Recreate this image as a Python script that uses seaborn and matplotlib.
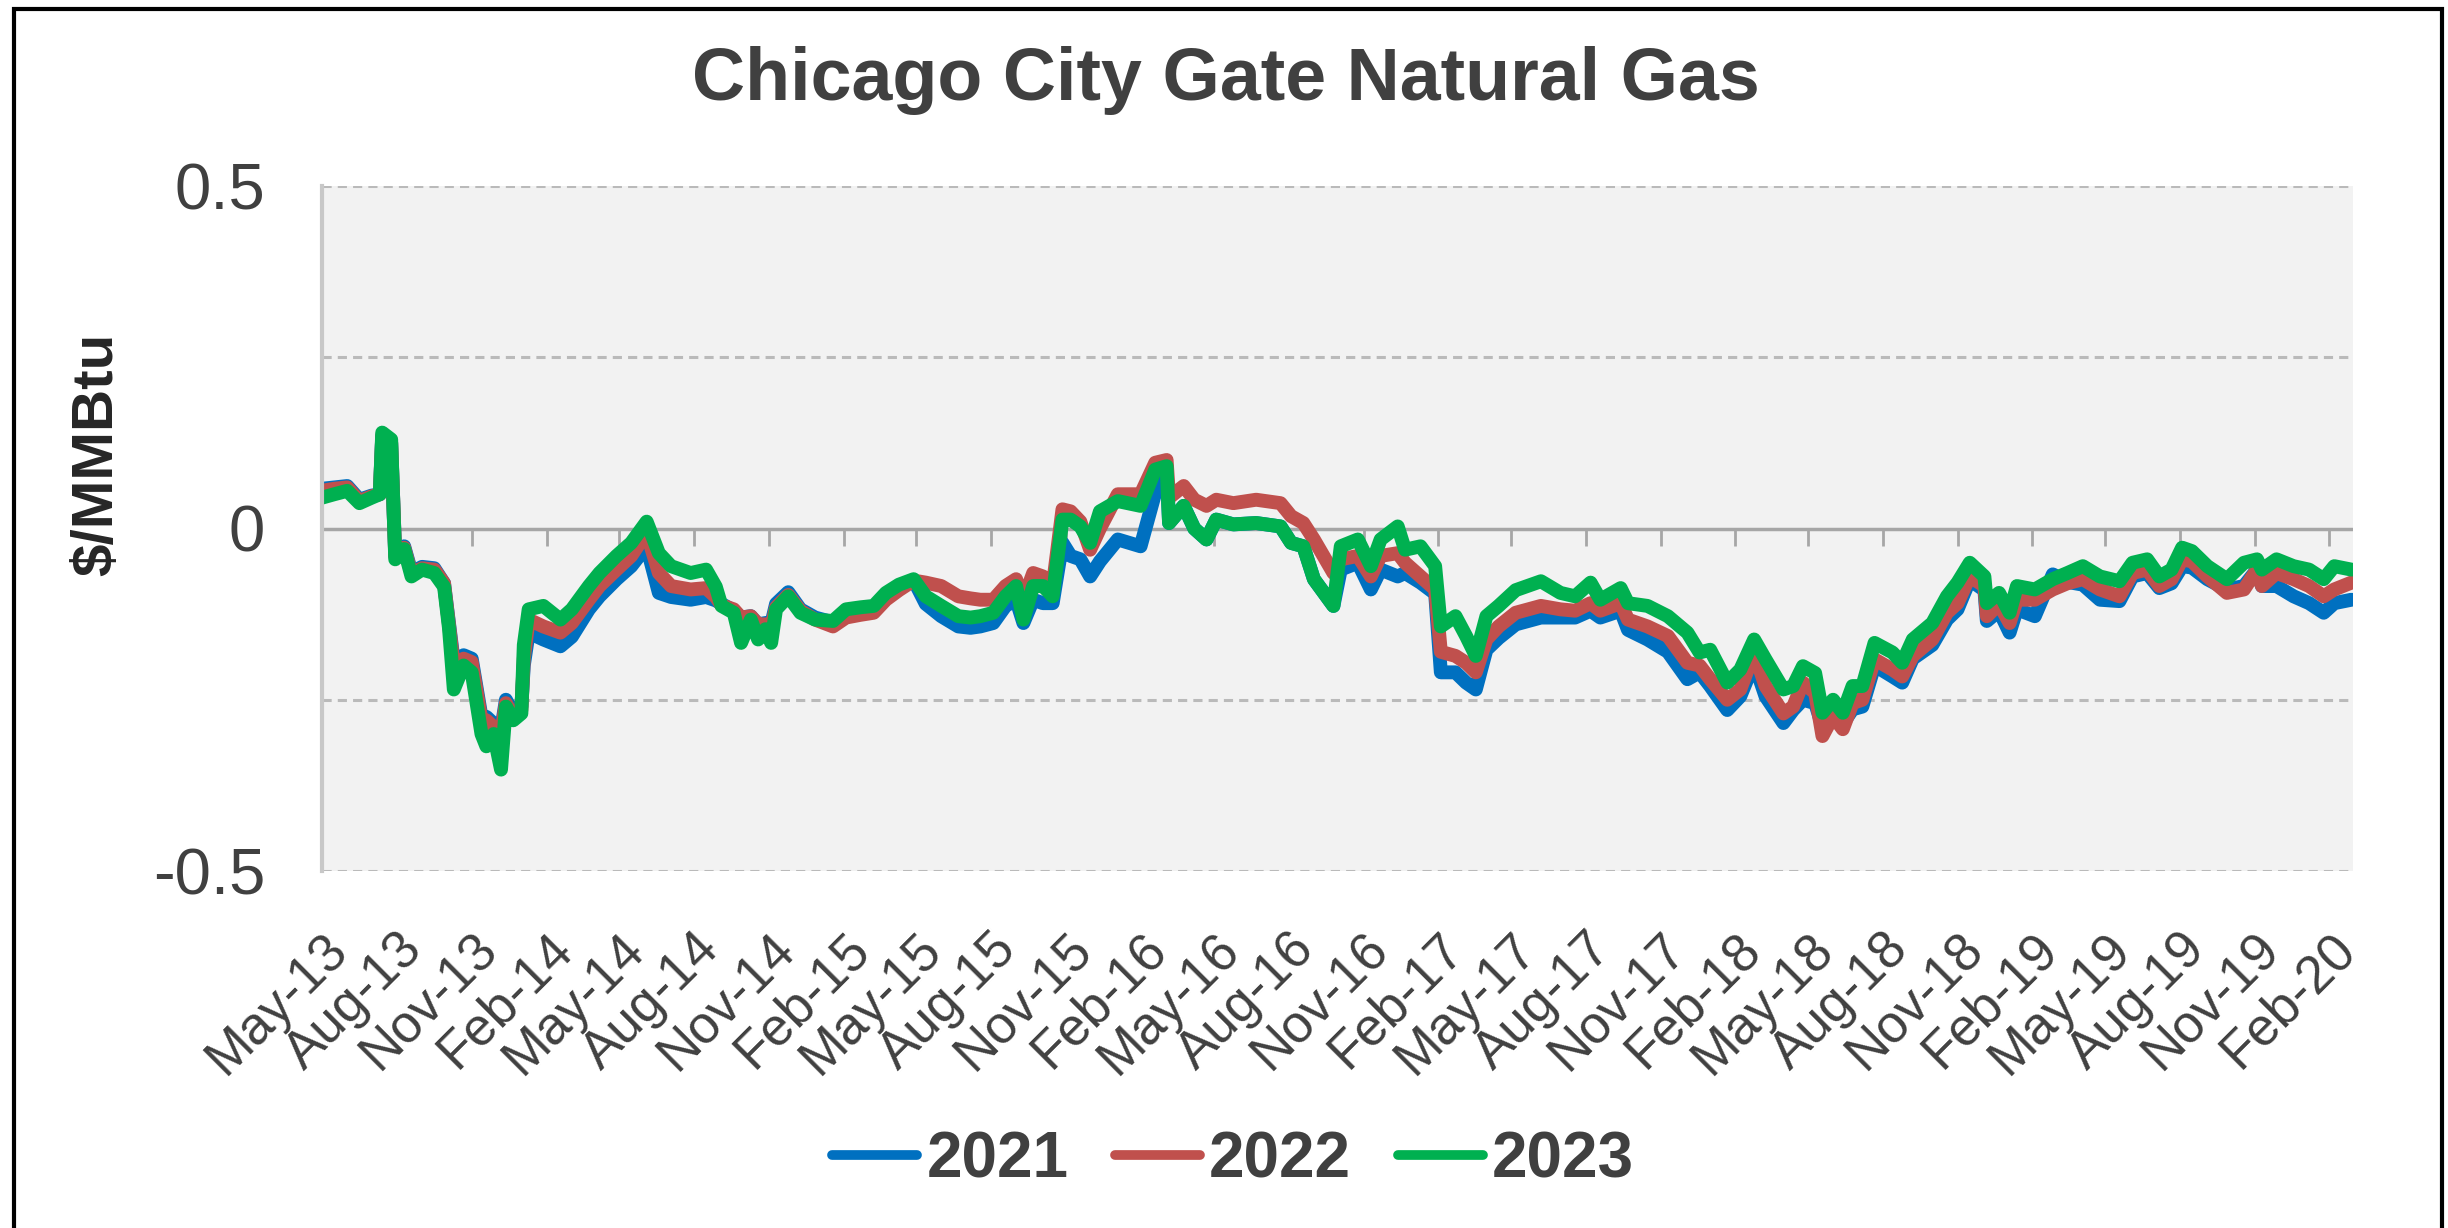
import matplotlib
matplotlib.use("Agg")
import pandas as pd
import matplotlib.pyplot as plt
import matplotlib.dates as mdates
import matplotlib.colors as mcolors
from matplotlib.patches import Rectangle
import seaborn as sns

# -----------------------------------------------------------
# Data (basis, $/MMBtu)
# -----------------------------------------------------------
dates = [
    "2013-05-01", "2013-05-16", "2013-06-01", "2013-06-16", "2013-07-01", "2013-07-11",
    "2013-07-14", "2013-07-25", "2013-07-30", "2013-08-10", "2013-08-19", "2013-09-01",
    "2013-09-16", "2013-09-28", "2013-10-04", "2013-10-10", "2013-10-22", "2013-11-01",
    "2013-11-13", "2013-11-19", "2013-11-28", "2013-12-07", "2013-12-13", "2013-12-22",
    "2014-01-01", "2014-01-04", "2014-01-10", "2014-01-28", "2014-02-18", "2014-03-04",
    "2014-03-25", "2014-04-07", "2014-04-28", "2014-05-16", "2014-06-04", "2014-06-19",
    "2014-07-04", "2014-07-28", "2014-08-16", "2014-08-28", "2014-09-04", "2014-09-19",
    "2014-09-28", "2014-10-10", "2014-10-19", "2014-10-28", "2014-11-04", "2014-11-10",
    "2014-11-25", "2014-12-10", "2014-12-28",
    "2015-01-19", "2015-02-04", "2015-02-22", "2015-03-10", "2015-03-25", "2015-04-10",
    "2015-04-28", "2015-05-13", "2015-06-01", "2015-06-22", "2015-07-07", "2015-07-19",
    "2015-08-04", "2015-08-19", "2015-09-01", "2015-09-10", "2015-09-22", "2015-10-04",
    "2015-10-16", "2015-10-28", "2015-11-07", "2015-11-19", "2015-12-01", "2015-12-13",
    "2016-01-04", "2016-02-01", "2016-02-19", "2016-03-04", "2016-03-07", "2016-03-25",
    "2016-04-07", "2016-04-22", "2016-05-04", "2016-05-25", "2016-06-22", "2016-07-22",
    "2016-08-04", "2016-08-19", "2016-09-01", "2016-09-25", "2016-10-04", "2016-10-25",
    "2016-11-10", "2016-11-22", "2016-12-13", "2016-12-22",
    "2017-01-10", "2017-01-28", "2017-02-04", "2017-02-22", "2017-03-07", "2017-03-19",
    "2017-04-01", "2017-04-16", "2017-05-07", "2017-06-07", "2017-07-01", "2017-07-19",
    "2017-08-07", "2017-08-19", "2017-09-13", "2017-09-22", "2017-10-16", "2017-11-10",
    "2017-12-04", "2017-12-19",
    "2018-01-01", "2018-01-22", "2018-02-07", "2018-02-24", "2018-03-10", "2018-04-01",
    "2018-04-13", "2018-04-25", "2018-05-10", "2018-05-19", "2018-06-01", "2018-06-13",
    "2018-06-25", "2018-07-07", "2018-07-22", "2018-08-13", "2018-08-25", "2018-09-07",
    "2018-10-01", "2018-10-19", "2018-11-01", "2018-11-16", "2018-12-04", "2018-12-07",
    "2018-12-22",
    "2019-01-04", "2019-01-13", "2019-02-04", "2019-02-26", "2019-03-16", "2019-04-04",
    "2019-04-25", "2019-05-19", "2019-06-04", "2019-06-22", "2019-07-07", "2019-07-22",
    "2019-08-04", "2019-08-16", "2019-09-04", "2019-09-28", "2019-10-19", "2019-11-04",
    "2019-11-10", "2019-11-28", "2019-12-19",
    "2020-01-07", "2020-01-25", "2020-02-07", "2020-02-28",
]

basis_2021 = [
    .058, .060, .062, .042, .048, .050, .135, .125, -.040, -.026, -.064, -.056,
    -.058, -.080, -.138, -.195, -.185, -.190, -.275, -.275, -.285, -.295, -.250, -.270,
    -.260, -.200, -.152, -.162, -.172, -.158, -.118, -.099, -.074, -.055, -.026, -.094,
    -.100, -.104, -.100, -.105, -.110, -.120, -.130, -.128, -.140, -.138, -.140, -.110,
    -.093, -.118, -.130,
    -.137, -.120, -.118, -.116, -.097, -.085, -.075, -.110, -.128, -.143, -.145, -.143,
    -.138, -.113, -.104, -.138, -.104, -.109, -.109, -.021, -.040, -.045, -.070, -.048,
    -.016, -.026, .052, .085, .008, .033, .000, -.016, .013, .006, .008, .003,
    -.021, -.026, -.074, -.113, -.060, -.050, -.089, -.060, -.070, -.065,
    -.079, -.095, -.210, -.210, -.225, -.235, -.177, -.160, -.140, -.130, -.130, -.130,
    -.120, -.130, -.120, -.148, -.162, -.180, -.220, -.210,
    -.230, -.265, -.245, -.196, -.245, -.284, -.265, -.250, -.255, -.289, -.280, -.285,
    -.264, -.260, -.200, -.216, -.225, -.190, -.170, -.133, -.118, -.075, -.090, -.135,
    -.120,
    -.152, -.118, -.128, -.067, -.078, -.082, -.104, -.106, -.070, -.065, -.087, -.080,
    -.055, -.057, -.074, -.089, -.084, -.060, -.084, -.084, -.099,
    -.109, -.123, -.109, -.104,
]

basis_2022 = [
    .055, .058, .060, .040, .047, .050, .135, .125, -.040, -.028, -.066, -.058,
    -.060, -.080, -.140, -.200, -.190, -.195, -.280, -.280, -.290, -.300, -.255, -.275,
    -.265, -.190, -.133, -.143, -.152, -.138, -.104, -.084, -.060, -.040, -.006, -.065,
    -.084, -.089, -.087, -.100, -.112, -.118, -.130, -.128, -.140, -.140, -.145, -.115,
    -.097, -.120, -.133,
    -.143, -.130, -.126, -.123, -.104, -.090, -.076, -.079, -.084, -.099, -.102, -.104,
    -.104, -.084, -.074, -.104, -.065, -.070, -.084, .028, .025, .010, -.031, .000,
    .050, .050, .096, .100, .045, .062, .042, .033, .042, .037, .042, .037,
    .018, .008, -.016, -.065, -.045, -.040, -.070, -.040, -.036, -.050,
    -.070, -.089, -.180, -.186, -.196, -.210, -.162, -.143, -.123, -.113, -.118, -.120,
    -.109, -.120, -.109, -.133, -.143, -.157, -.196, -.200,
    -.220, -.250, -.235, -.181, -.230, -.270, -.260, -.225, -.240, -.303, -.274, -.293,
    -.255, -.250, -.191, -.206, -.216, -.186, -.162, -.123, -.109, -.070, -.084, -.128,
    -.110,
    -.138, -.104, -.104, -.089, -.080, -.074, -.089, -.099, -.065, -.060, -.084, -.074,
    -.045, -.048, -.070, -.094, -.089, -.060, -.084, -.065, -.074,
    -.084, -.099, -.089, -.079,
]

basis_2023 = [
    .045, .050, .055, .037, .045, .050, .140, .130, -.045, -.030, -.070, -.060,
    -.065, -.085, -.145, -.235, -.200, -.210, -.300, -.318, -.300, -.352, -.260, -.280,
    -.270, -.170, -.118, -.113, -.133, -.118, -.084, -.065, -.040, -.021, .010, -.036,
    -.055, -.065, -.060, -.085, -.113, -.123, -.167, -.133, -.162, -.147, -.167, -.118,
    -.099, -.123, -.133,
    -.135, -.118, -.115, -.113, -.094, -.082, -.074, -.099, -.113, -.128, -.130, -.128,
    -.123, -.099, -.084, -.133, -.084, -.084, -.099, .013, .013, .003, -.021, .025,
    .040, .033, .086, .091, .008, .033, .000, -.016, .013, .006, .008, .003,
    -.021, -.026, -.074, -.113, -.026, -.016, -.055, -.016, .003, -.031,
    -.026, -.055, -.143, -.128, -.157, -.186, -.128, -.113, -.090, -.077, -.094, -.099,
    -.079, -.104, -.087, -.109, -.113, -.128, -.152, -.181,
    -.177, -.225, -.206, -.162, -.191, -.235, -.230, -.201, -.211, -.269, -.250, -.269,
    -.230, -.230, -.167, -.181, -.196, -.162, -.138, -.099, -.079, -.050, -.070, -.109,
    -.094,
    -.123, -.084, -.089, -.074, -.065, -.055, -.070, -.077, -.050, -.045, -.070, -.060,
    -.028, -.033, -.055, -.074, -.050, -.045, -.060, -.045, -.055,
    -.060, -.074, -.055, -.060,
]

series_names = ["2021", "2022", "2023"]
series_colors = ["#0070C0", "#C0504D", "#00B050"]

y_major = [-0.5, 0, 0.5]
y_major_labels = ["-0.5", "0", "0.5"]
y_minor = [-0.25, 0.25]
x_ticks = pd.date_range("2013-05-01", "2020-02-01", freq="3MS")
x_start, x_end = pd.Timestamp("2013-05-01"), pd.Timestamp("2020-03-01")

# -----------------------------------------------------------
# Long-form table for seaborn
# -----------------------------------------------------------
df = pd.DataFrame({
    "date": pd.to_datetime(dates),
    "2021": basis_2021,
    "2022": basis_2022,
    "2023": basis_2023,
})
long_df = df.melt(id_vars="date", var_name="year", value_name="basis")

sns.set_theme(style="white")
plt.rcParams["font.family"] = ["Liberation Sans", "DejaVu Sans"]

W, H = 2448, 1228
TEXT = "#404040"
GRID = "#bababa"
LINE_W = 10

fig = plt.figure(figsize=(W / 100, H / 100), dpi=100)
ax = fig.add_axes([322 / W, 1 - 871 / H, (2353 - 322) / W, (871 - 186) / H])
ax.set_facecolor("#f2f2f2")

# grid: dashed at +-0.25 / +-0.5, solid zero line
for y in y_major + y_minor:
    if y == 0:
        ax.axhline(y, color="#a6a6a6", lw=2.5, zorder=1)
    else:
        ax.axhline(y, color=GRID, lw=2.2, ls=(0, (3.0, 2.0)), zorder=1)

sns.lineplot(data=long_df, x="date", y="basis", hue="year",
             hue_order=series_names, palette=series_colors,
             linewidth=LINE_W, estimator=None, ax=ax)

# make sure the series lines are thick like the Excel original
series_hex = [c.lower() for c in series_colors]
for line in ax.get_lines():
    if mcolors.to_hex(line.get_color()) in series_hex:
        line.set_linewidth(LINE_W)
        line.set_solid_joinstyle("round")

ax.set_xlim(x_start, x_end)
ax.set_ylim(-0.5, 0.5)
ax.set_xlabel("")
ax.set_ylabel("")

for side in ["top", "right", "bottom"]:
    ax.spines[side].set_visible(False)
ax.spines["left"].set_color("#c8c8c8")
ax.spines["left"].set_linewidth(3)

# y axis
ax.set_yticks(y_major)
ax.set_yticklabels(y_major_labels)
ax.set_yticks(y_minor, minor=True)
ax.tick_params(axis="y", which="major", length=14, width=2.2, color=GRID,
               pad=27, labelsize=47, labelcolor=TEXT)
ax.tick_params(axis="y", which="minor", length=10, width=2.2, color=GRID)

# x axis labels at the bottom
ax.set_xticks(x_ticks)
ax.xaxis.set_major_formatter(mdates.DateFormatter("%b-%y"))
ax.tick_params(axis="x", which="both", length=0, pad=38, labelsize=38, labelcolor=TEXT)
for lbl in ax.get_xticklabels():
    lbl.set_rotation(45)
    lbl.set_ha("right")
    lbl.set_va("top")
    lbl.set_rotation_mode("anchor")

# tick marks sitting on the zero line
sec = ax.secondary_xaxis(0.5)
sec.set_alignment("bottom")
sec.set_xticks(mdates.date2num(x_ticks))
sec.tick_params(axis="x", direction="out", length=12, width=2, color="#a6a6a6",
                labelbottom=False, labeltop=False)
for s in sec.spines.values():
    s.set_visible(False)

# labels
fig.text(97 / W, 1 - 454 / H, "$/MMBtu", rotation=90, ha="center", va="center",
         fontsize=42, fontweight="bold", color="#262626")
fig.text(1226 / W, 1 - 100 / H, "Chicago City Gate Natural Gas", ha="center",
         va="baseline", fontsize=53, fontweight="bold", color=TEXT)

# legend below the chart
handles, labels = ax.get_legend_handles_labels()
ax.get_legend().remove()
leg = fig.legend(handles, labels, loc="center", bbox_to_anchor=(1233 / W, 1 - 1160 / H),
                 ncol=3, frameon=False, prop={"weight": "bold", "size": 46},
                 handlelength=1.33, handletextpad=0.14, columnspacing=0.73,
                 labelcolor=TEXT)
for line in leg.get_lines():
    line.set_linewidth(7)

# outer frame
fig.add_artist(Rectangle((13.5 / W, -0.1), (2442 - 13.5) / W, 1.1 - 9 / H,
                         transform=fig.transFigure, fill=False,
                         edgecolor="black", lw=3, clip_on=False))

fig.savefig("out.png", dpi=100)
